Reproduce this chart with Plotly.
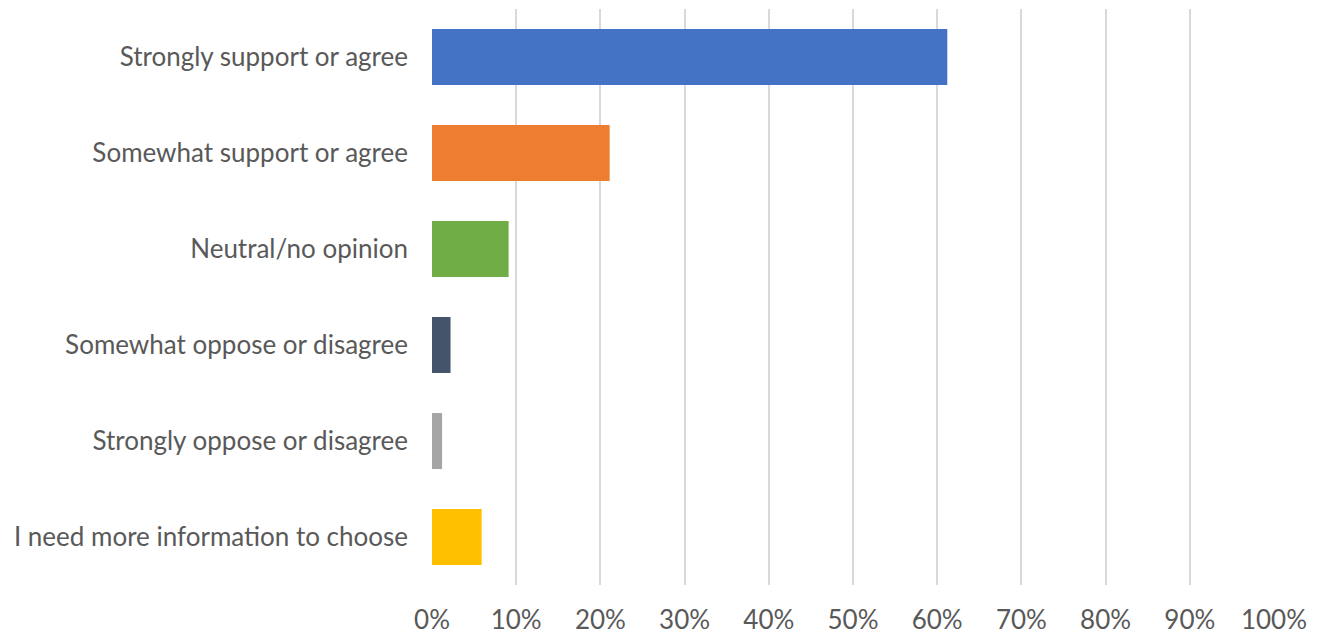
import plotly.graph_objects as go

categories = [
    "Strongly support or agree",
    "Somewhat support or agree",
    "Neutral/no opinion",
    "Somewhat oppose or disagree",
    "Strongly oppose or disagree",
    "I need more information to choose",
]
values = [0.612, 0.211, 0.091, 0.022, 0.012, 0.059]
colors = ["#4472C4", "#ED7D31", "#70AD47", "#44546A", "#A5A5A5", "#FFC000"]
tick_vals = [i / 10 for i in range(11)]
tick_text = [f"{i*10}%" for i in range(11)]

fig = go.Figure(
    go.Bar(
        y=categories,
        x=values,
        orientation="h",
        marker=dict(color=colors, line=dict(width=0)),
        width=0.583,
    )
)

fig.update_layout(
    width=1314,
    height=627,
    margin=dict(l=424, r=48, t=1, b=50, autoexpand=False),
    paper_bgcolor="white",
    plot_bgcolor="white",
    font=dict(family="Lato", size=26, color="#595959"),
    showlegend=False,
)
fig.update_xaxes(
    range=[0, 1],
    tickvals=tick_vals,
    ticktext=tick_text,
    showgrid=True,
    gridcolor="#D9D9D9",
    gridwidth=2,
    zeroline=False,
    showline=False,
    ticks="",
    ticklabelstandoff=17,
    tickfont=dict(size=26, color="#595959"),
)
fig.update_yaxes(
    categoryorder="array",
    categoryarray=categories[::-1],
    showgrid=False,
    zeroline=False,
    showline=False,
    ticks="",
    ticklabelstandoff=23,
    tickfont=dict(size=26, color="#595959"),
)

fig.write_html("out.html")
